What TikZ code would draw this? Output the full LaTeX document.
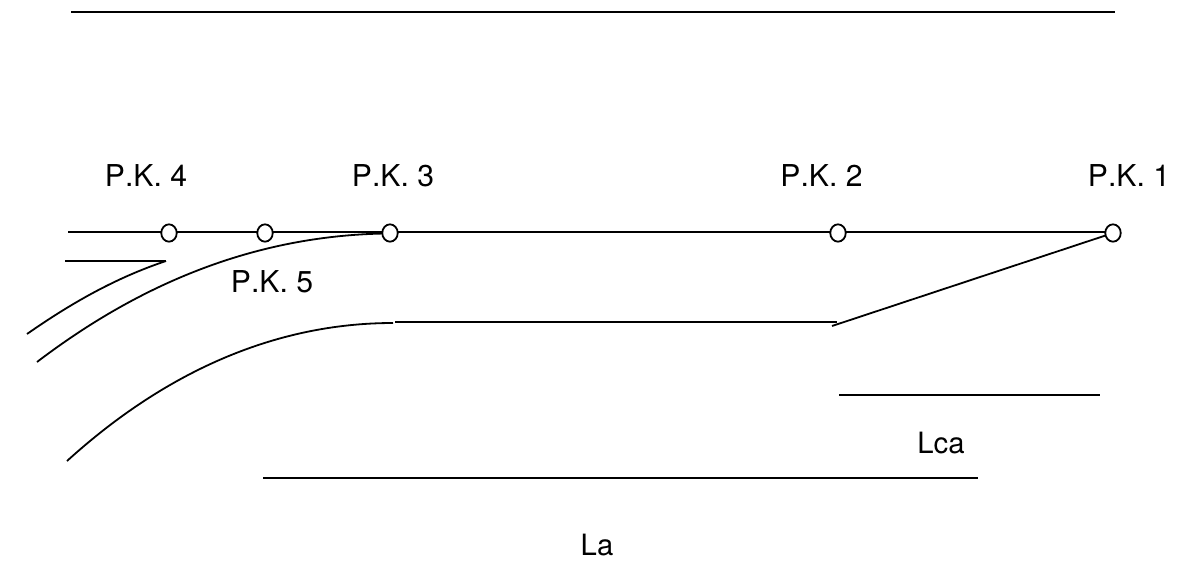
\documentclass[tikz,border=0pt]{standalone}
\usepackage{fontspec}
\setmainfont[Kerning=Off]{TeX Gyre Heros}
\usetikzlibrary{shapes.geometric}
\tikzset{
 ln/.style={line width=1.35pt,black},
 pk/.style={ellipse,draw=black,fill=white,line width=1.35pt,minimum width=11.6pt,minimum height=13pt,inner sep=0pt,outer sep=0pt},
 lb/.style={font=\fontsize{22}{26}\selectfont,inner sep=0pt,anchor=center,text=black},
 lbk/.style={font=\fontsize{22.6}{26}\selectfont,inner sep=0pt,anchor=center,text=black}
}
\begin{document}
\begin{tikzpicture}[x=0.75pt,y=-0.75pt]
\useasboundingbox[fill=white] (0,0) rectangle (1182,561);
\coordinate (t1) at (71,12); \coordinate (t2) at (1115,12);
\draw[ln] (t1) -- (t2);
\coordinate (s) at (68,232);
\coordinate (q4) at (169,232); \coordinate (q5) at (265,232); \coordinate (q3) at (390,232); \coordinate (q2) at (838,232); \coordinate (q1) at (1113,232);
\draw[ln] (s) -- (q4) -- (q5) -- (q3) -- (q2) -- (q1);
\coordinate (a1) at (65,261); \coordinate (a2) at (166,261);
\draw[ln] (a1) -- (a2);
\coordinate (b0) at (27,334);
\draw[ln] (b0) .. controls (70,304) and (115,278) .. (a2);
\coordinate (c0) at (37,362); \coordinate (c1) at (385,233.5);
\draw[ln] (c0) .. controls (125,295) and (240,236) .. (c1);
\coordinate (d0) at (67,461); \coordinate (d1) at (393,323);
\draw[ln] (d0) .. controls (165,372) and (275,323) .. (d1);
\coordinate (e1) at (395,322); \coordinate (e2) at (837,322);
\draw[ln] (e1) -- (e2);
\coordinate (h) at (832,326);
\node[pk] (p1) at (1113,233) {};
\node[pk] (p2) at (838,233) {};
\node[pk] (p3) at (390,233) {};
\node[pk] (p5) at (265,233) {};
\node[pk] (p4) at (169,233) {};
\draw[ln] (h) -- (p1);
\coordinate (f1) at (839,395); \coordinate (f2) at (1100,395);
\draw[ln] (f1) -- (f2);
\coordinate (g1) at (263,478); \coordinate (g2) at (978,478);
\draw[ln] (g1) -- (g2);
\node[lbk] (l4) at (146,175.5) {P.K. 4};
\node[lbk] (l3) at (393,175.5) {P.K. 3};
\node[lbk] (l2) at (821.5,175.5) {P.K. 2};
\node[lbk] (l1) at (1129,175.5) {P.K. 1};
\node[lbk] (l5) at (272,281.5) {P.K. 5};
\node[lb] (lca) at (941,443) {Lca};
\node[lb] (la) at (597,545) {La};
\end{tikzpicture}
\end{document}
